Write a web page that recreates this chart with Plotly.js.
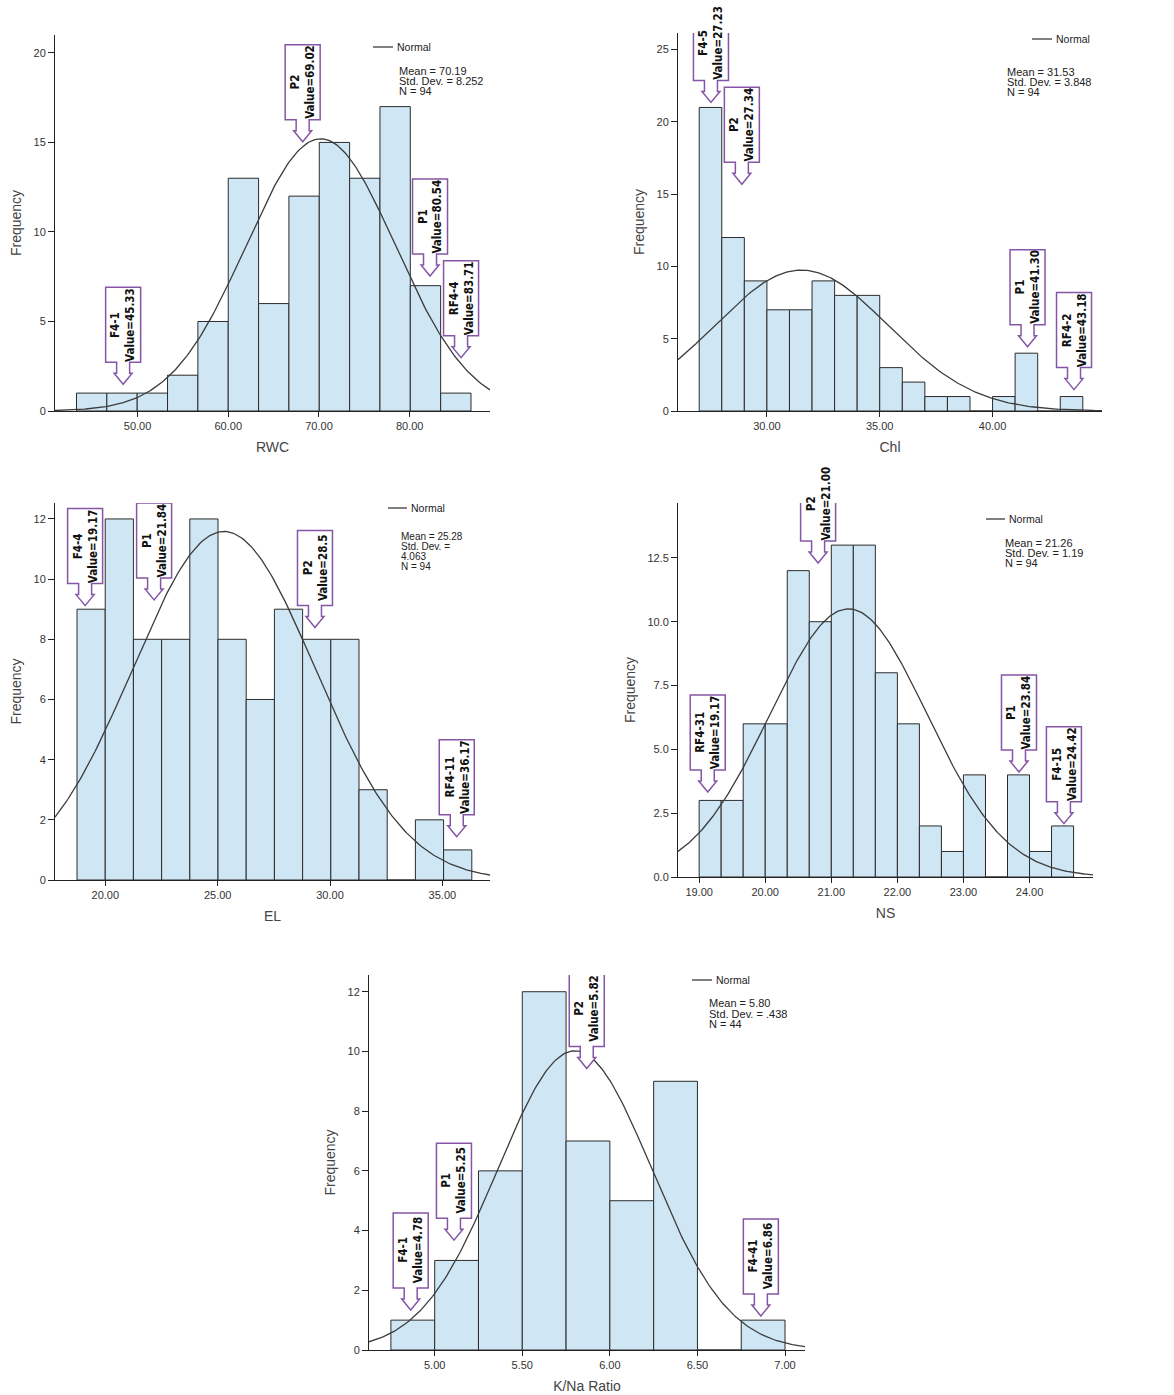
<!DOCTYPE html>
<html><head><meta charset="utf-8">
<script src="https://cdn.plot.ly/plotly-3.0.1.min.js"></script>
<style>html,body{margin:0;padding:0;background:#fff}</style>
</head><body><div id="chart" style="width:1174px;height:1395px"></div>
<script>
// ---------------- DATA ----------------
// RWC
const rwcBinStart = 43.27, rwcBinWidth = 3.345;
const rwcCounts = [1,1,1,2,5,13,6,12,15,13,17,7,1];
const rwcMean = 70.19, rwcSD = 8.252, rwcN = 94;
const rwcXTicks = [50,60,70,80];
const rwcCallLabels = ['F4-1','P2','P1','RF4-4'];
const rwcCallValues = ['Value=45.33','Value=69.02','Value=80.54','Value=83.71'];
const rwcCallX = [48.41,68.2,82.24,85.66];
const rwcCallY = [1.49,15.04,7.54,2.98];
const rwcStatText = ['Mean = 70.19','Std. Dev. = 8.252','N = 94'];

// Chl
const chlBinStart = 27.0, chlBinWidth = 1.0;
const chlCounts = [21,12,9,7,7,9,8,8,3,2,1,1,0,1,4,0,1];
const chlMean = 31.53, chlSD = 3.848, chlN = 94;
const chlXTicks = [30,35,40];
const chlCallLabels = ['F4-5','P2','P1','RF4-2'];
const chlCallValues = ['Value=27.23','Value=27.34','Value=41.30','Value=43.18'];
const chlCallX = [27.52,28.89,41.55,43.61];
const chlCallY = [21.35,15.69,4.44,1.48];
const chlStatText = ['Mean = 31.53','Std. Dev. = 3.848','N = 94'];

// EL
const elBinStart = 18.74, elBinWidth = 1.255;
const elCounts = [9,12,8,8,12,8,6,9,8,8,3,0,2,1];
const elMean = 25.28, elSD = 4.063, elN = 94;
const elXTicks = [20,25,30,35];
const elCallLabels = ['F4-4','P1','P2','RF4-11'];
const elCallValues = ['Value=19.17','Value=21.84','Value=28.5','Value=36.17'];
const elCallX = [19.10,22.17,29.33,35.64];
const elCallY = [9.12,9.31,8.39,1.44];
const elStatText = ['Mean = 25.28','Std. Dev. =','4.063','N = 94'];

// NS
const nsBinStart = 19.0, nsBinWidth = 0.3333;
const nsCounts = [3,3,6,6,12,10,13,13,8,6,2,1,4,0,4,1,2];
const nsMean = 21.26, nsSD = 1.19, nsN = 94;
const nsXTicks = [19,20,21,22,23,24];
const nsCallLabels = ['RF4-31','P2','P1','F4-15'];
const nsCallValues = ['Value=19.17','Value=21.00','Value=23.84','Value=24.42'];
const nsCallX = [19.13,20.80,23.84,24.52];
const nsCallY = [3.33,12.30,4.11,2.09];
const nsStatText = ['Mean = 21.26','Std. Dev. = 1.19','N = 94'];

// K/Na ratio
const knaBinStart = 4.75, knaBinWidth = 0.25;
const knaCounts = [1,3,6,12,7,5,9,0,1];
const knaMean = 5.80, knaSD = 0.438, knaN = 44;
const knaXTicks = [5.0,5.5,6.0,6.5,7.0];
const knaCallLabels = ['F4-1','P1','P2','F4-41'];
const knaCallValues = ['Value=4.78','Value=5.25','Value=5.82','Value=6.86'];
const knaCallX = [4.863,5.11,5.868,6.862];
const knaCallY = [1.34,3.68,9.43,1.14];
const knaStatText = ['Mean = 5.80','Std. Dev. = .438','N = 44'];

// ---------------- LAYOUT / STYLE ----------------
const W = 1174, H = 1395;
const fx = p => p / W;
const fy = p => 1 - p / H;

const panels = [
  {title:'RWC', start:rwcBinStart, width:rwcBinWidth, counts:rwcCounts, mean:rwcMean, sd:rwcSD, n:rwcN, xticks:rwcXTicks,
   labels:rwcCallLabels, values:rwcCallValues, cx:rwcCallX, cy:rwcCallY, stats:rwcStatText,
   xr:[40.9,88.85], yr:[0,21], dtick:5, yfmt:'d', px:[55,490], py:[35,411],
   leg:[373,393,47], statX:398, statY:71, statDy:10, statSize:11},
  {title:'Chl', start:chlBinStart, width:chlBinWidth, counts:chlCounts, mean:chlMean, sd:chlSD, n:chlN, xticks:chlXTicks,
   labels:chlCallLabels, values:chlCallValues, cx:chlCallX, cy:chlCallY, stats:chlStatText,
   xr:[26.06,44.85], yr:[0,26.15], dtick:5, yfmt:'d', px:[678,1102], py:[33,411],
   leg:[1032,1052,39], statX:1006, statY:72, statDy:10, statSize:11},
  {title:'EL', start:elBinStart, width:elBinWidth, counts:elCounts, mean:elMean, sd:elSD, n:elN, xticks:elXTicks,
   labels:elCallLabels, values:elCallValues, cx:elCallX, cy:elCallY, stats:elStatText,
   xr:[17.76,37.12], yr:[0,12.53], dtick:2, yfmt:'d', px:[55,490], py:[503,880],
   leg:[388,407,508], statX:400, statY:536, statDy:10, statSize:10},
  {title:'NS', start:nsBinStart, width:nsBinWidth, counts:nsCounts, mean:nsMean, sd:nsSD, n:nsN, xticks:nsXTicks,
   labels:nsCallLabels, values:nsCallValues, cx:nsCallX, cy:nsCallY, stats:nsStatText,
   xr:[18.68,24.96], yr:[0,14.65], dtick:2.5, yfmt:'.1f', px:[678,1093], py:[503,877],
   leg:[986,1005,519], statX:1004, statY:543, statDy:10, statSize:11},
  {title:'K/Na Ratio', start:knaBinStart, width:knaBinWidth, counts:knaCounts, mean:knaMean, sd:knaSD, n:knaN, xticks:knaXTicks,
   labels:knaCallLabels, values:knaCallValues, cx:knaCallX, cy:knaCallY, stats:knaStatText,
   xr:[4.625,7.114], yr:[0,12.56], dtick:2, yfmt:'d', px:[369,805], py:[975,1350],
   leg:[692,712,980], statX:708, statY:1003, statDy:10.5, statSize:11}
];

const barFill = '#cfe6f4', barLine = '#2b2b2b', curveColor = '#3c3c3c';
const calloutColor = '#8656a6';
const calloutFont = {family:'"Liberation Sans Narrow","Arial Narrow","DejaVu Sans Condensed",Roboto,Arial,sans-serif', size:11.5, color:'#111'};
const tickFont = {family:'Arial, "Liberation Sans", sans-serif', size:11, color:'#333'};
const titleFont = {family:'Arial, "Liberation Sans", sans-serif', size:14, color:'#444'};
const statFamily = 'Arial, "Liberation Sans", sans-serif';

const traces = [];
const layout = {
  width:W, height:H, margin:{l:0,r:0,t:0,b:0},
  paper_bgcolor:'#fff', plot_bgcolor:'rgba(0,0,0,0)',
  showlegend:false, shapes:[], annotations:[], bargap:0
};

// block-arrow callout outline, pixels relative to the arrow tip (y up)
const calloutPath = 'M 0 0 L -9 11 L -6.5 11 L -6.5 22 L -17.5 22 L -17.5 97 L 17.5 97 L 17.5 22 L 6.5 22 L 6.5 11 L 9 11 Z';

panels.forEach((p, i) => {
  const sfx = i === 0 ? '' : String(i + 1);
  const xa = 'x' + sfx, ya = 'y' + sfx;
  const xs = p.counts.map((c, k) => p.start + (k + 0.5) * p.width);
  traces.push({type:'bar', x:xs, y:p.counts, width:p.width, xaxis:xa, yaxis:ya,
    marker:{color:barFill, line:{color:barLine, width:1}}, hoverinfo:'x+y'});
  // fitted normal curve from the stated Mean / Std. Dev. / N and the bin width
  const cxs = [], cys = [];
  const steps = 240;
  for (let s = 0; s <= steps; s++) {
    const x = p.xr[0] + (p.xr[1] - p.xr[0]) * s / steps;
    const z = (x - p.mean) / p.sd;
    cxs.push(x);
    cys.push(p.n * p.width * Math.exp(-0.5 * z * z) / (p.sd * Math.sqrt(2 * Math.PI)));
  }
  traces.push({type:'scatter', mode:'lines', x:cxs, y:cys, xaxis:xa, yaxis:ya,
    line:{color:curveColor, width:1.3}, name:'Normal', hoverinfo:'skip'});

  const axX = {
    domain:[fx(p.px[0]), fx(p.px[1])], range:p.xr, anchor:ya,
    showline:true, linecolor:'#222', linewidth:1, ticks:'outside', ticklen:5, tickcolor:'#222',
    showgrid:false, zeroline:false, tickmode:'array', tickvals:p.xticks, tickformat:'.2f',
    tickfont:tickFont, title:{text:p.title, font:titleFont, standoff:10}, fixedrange:true
  };
  const axY = {
    domain:[fy(p.py[1]), fy(p.py[0])], range:p.yr, anchor:xa,
    showline:true, linecolor:'#222', linewidth:1, ticks:'outside', ticklen:6, tickcolor:'#222',
    showgrid:false, zeroline:false, dtick:p.dtick, tick0:0, tickformat:p.yfmt,
    tickfont:tickFont, title:{text:'Frequency', font:titleFont, standoff:8}, fixedrange:true
  };
  layout['xaxis' + sfx] = axX;
  layout['yaxis' + sfx] = axY;

  // callouts
  p.labels.forEach((lab, k) => {
    layout.shapes.push({type:'path', xref:xa, yref:ya, xsizemode:'pixel', ysizemode:'pixel',
      xanchor:p.cx[k], yanchor:p.cy[k], path:calloutPath, layer:'above',
      fillcolor:'#fff', line:{color:calloutColor, width:1.5}});
    layout.annotations.push({xref:xa, yref:ya, x:p.cx[k], y:p.cy[k], xshift:0, yshift:59.5,
      showarrow:false, textangle:-90, font:calloutFont,
      text:'<b>' + lab + '</b><br><b>' + p.values[k] + '</b>'});
  });

  const statFont = {family:statFamily, size:p.statSize, color:'#222'};
  // legend line + label
  layout.shapes.push({type:'line', xref:'paper', yref:'paper',
    x0:fx(p.leg[0]), x1:fx(p.leg[1]), y0:fy(p.leg[2]), y1:fy(p.leg[2]),
    line:{color:curveColor, width:1.3}});
  layout.annotations.push({xref:'paper', yref:'paper', x:fx(p.leg[1] + 2), y:fy(p.leg[2]),
    xanchor:'left', yanchor:'middle', showarrow:false, text:'Normal',
    font:{family:statFamily, size:10.5, color:'#222'}});
  // statistics
  p.stats.forEach((t, k) => {
    layout.annotations.push({xref:'paper', yref:'paper', x:fx(p.statX), y:fy(p.statY + k * p.statDy),
      xanchor:'left', yanchor:'middle', showarrow:false, text:t, font:statFont, borderpad:0});
  });
});

Plotly.newPlot('chart', traces, layout, {displayModeBar:false, staticPlot:true});
</script></body></html>
